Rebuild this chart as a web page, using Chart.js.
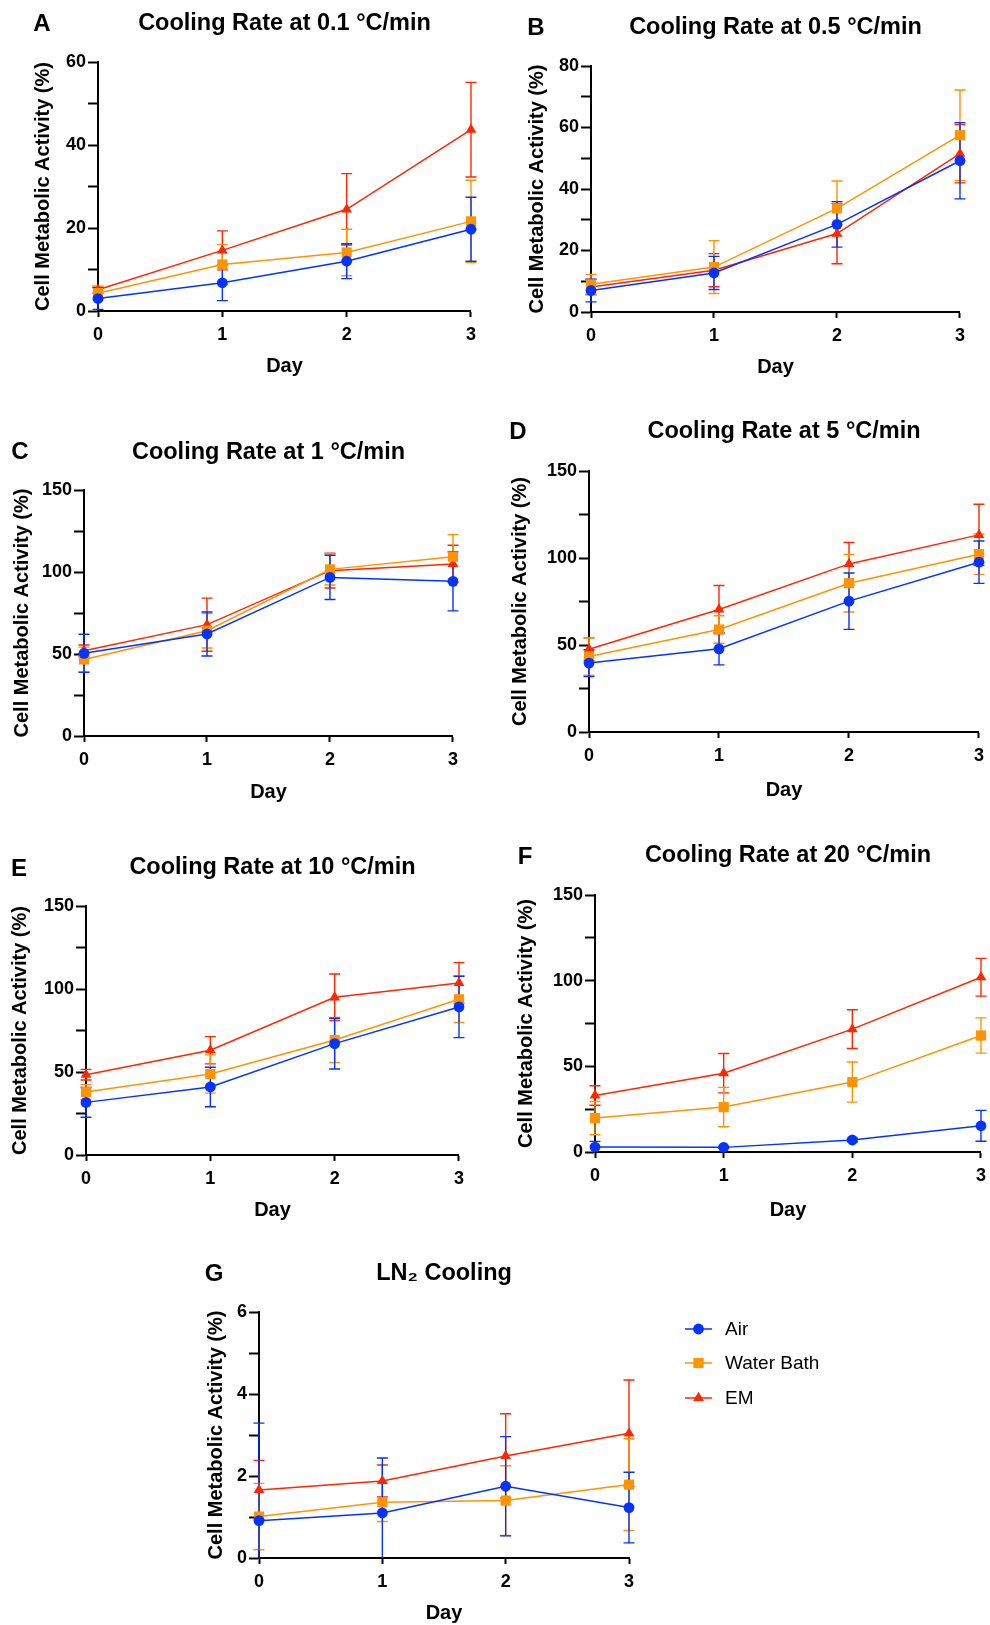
<!DOCTYPE html>
<html>
<head>
<meta charset="utf-8">
<script src="https://cdn.jsdelivr.net/npm/chart.js@4.4.1/dist/chart.umd.min.js"></script>
<style>
  html, body { margin: 0; padding: 0; background: #fff; }
  #page { position: relative; width: 990px; height: 1625px; overflow: hidden; }
  #page canvas { position: absolute; }
  .tag { position: absolute; font: bold 24px 'Liberation Sans', Arial, sans-serif; line-height: 1; transform: translate(-50%, -50%); color: #000; }
</style>
</head>
<body>
<div id="page"></div>
<script>
// days on the x axis
const days = [0, 1, 2, 3];
const seriesNames = ['Air', 'Water Bath', 'EM'];

// A - 0.1 C/min
const airA = [3.0, 6.8, 12.0, 19.7];
const airSdA = [2.6, 4.3, 4.2, 7.7];
const wbA = [4.3, 11.2, 14.1, 21.6];
const wbSdA = [1.6, 4.8, 5.6, 9.9];
const emA = [5.1, 14.6, 24.5, 43.7];
const emSdA = [0.8, 4.7, 8.6, 11.4];

// B - 0.5 C/min
const airB = [7.0, 12.7, 28.5, 49.2];
const airSdB = [3.7, 5.4, 7.4, 12.4];
const wbB = [9.0, 14.6, 33.7, 57.5];
const wbSdB = [3.2, 8.6, 8.9, 14.7];
const emB = [8.1, 13.6, 25.5, 51.5];
const emSdB = [2.5, 5.4, 9.8, 9.5];

// C - 1 C/min
const airC = [50.4, 62.2, 96.7, 94.3];
const airSdC = [11.6, 13.4, 13.5, 18.0];
const wbC = [46.7, 64.2, 101.6, 109.3];
const wbSdC = [7.5, 10.5, 9.5, 13.5];
const emC = [52.0, 67.9, 100.8, 104.9];
const emSdC = [3.5, 16.2, 10.6, 11.4];

// D - 5 C/min
const airD = [39.6, 47.8, 75.2, 97.6];
const airSdD = [7.7, 9.2, 16.2, 12.2];
const wbD = [43.4, 58.9, 85.5, 102.2];
const wbSdD = [10.7, 7.9, 16.5, 11.6];
const emD = [47.6, 70.4, 96.6, 113.3];
const emSdD = [6.5, 13.8, 12.3, 17.6];

// E - 10 C/min
const airE = [31.7, 41.0, 67.1, 89.2];
const airSdE = [9.0, 11.9, 15.3, 18.5];
const wbE = [38.0, 48.8, 69.3, 93.8];
const wbSdE = [4.5, 11.5, 13.6, 14.0];
const emE = [48.4, 63.1, 95.0, 103.6];
const emSdE = [3.2, 8.2, 14.0, 12.3];

// F - 20 C/min
const airF = [2.9, 2.7, 7.0, 15.3];
const airSdF = [3.3, 0.5, 1.0, 9.0];
const wbF = [19.8, 26.2, 40.8, 68.0];
const wbSdF = [9.7, 11.5, 11.7, 10.3];
const emF = [33.0, 46.0, 71.7, 102.0];
const emSdF = [5.7, 11.5, 11.3, 11.0];

// G - LN2
const airG = [0.91, 1.10, 1.75, 1.23];
const airSdG = [2.38, 1.34, 1.21, 0.86];
const wbG = [1.01, 1.36, 1.40, 1.79];
const wbSdG = [0.81, 0.47, 0.85, 1.12];
const emG = [1.66, 1.88, 2.49, 3.04];
const emSdG = [0.72, 0.39, 1.03, 1.30];

// y axis: max, minor step, labelled step
const yMaxes = [60, 80, 150, 150, 150, 150, 6];
const yMinor = [10, 10, 25, 25, 25, 25, 1];
const yMajor = [20, 20, 50, 50, 50, 50, 2];
const titles = ['Cooling Rate at 0.1 °C/min', 'Cooling Rate at 0.5 °C/min', 'Cooling Rate at 1 °C/min',
  'Cooling Rate at 5 °C/min', 'Cooling Rate at 10 °C/min', 'Cooling Rate at 20 °C/min', 'LN\u2082 Cooling'];
const letters = ['A', 'B', 'C', 'D', 'E', 'F', 'G'];

const colors = ['#0433FF', '#FF9300', '#FF2600'];
const shapes = ['circle', 'rect', 'triangle'];
const radii = [5.4, 7.2, 6.2];

const FONT = "'Liberation Sans', Arial, Helvetica, sans-serif";
Chart.defaults.font.family = FONT;
Chart.defaults.color = '#000';

// page layout of each panel (plot area edges, title/label centres)
const layout = [
  {L: 98, R: 471, T: 62, B: 311, titleY: 22.5, yTitleX: 43, xTitleY: 366, tagX: 42, tagY: 22.8},
  {L: 591, R: 960, T: 66, B: 312, titleY: 26.5, yTitleX: 537, xTitleY: 367, tagX: 536, tagY: 26.7},
  {L: 84, R: 453, T: 490, B: 736, titleY: 451.7, yTitleX: 22, xTitleY: 792, tagX: 20, tagY: 451.3},
  {L: 589, R: 979, T: 471, B: 732, titleY: 431, yTitleX: 520, xTitleY: 790, tagX: 518, tagY: 430.5},
  {L: 86, R: 459, T: 906, B: 1155, titleY: 866.7, yTitleX: 20, xTitleY: 1210, tagX: 19, tagY: 868},
  {L: 595, R: 981, T: 895, B: 1152, titleY: 855, yTitleX: 525.5, xTitleY: 1210, tagX: 525, tagY: 855.7},
  {L: 259, R: 629, T: 1312, B: 1558, titleY: 1273.3, yTitleX: 216, xTitleY: 1613, tagX: 214, tagY: 1273.3, right: 840}
];

const means = [[airA, wbA, emA], [airB, wbB, emB], [airC, wbC, emC], [airD, wbD, emD],
  [airE, wbE, emE], [airF, wbF, emF], [airG, wbG, emG]];
const sds = [[airSdA, wbSdA, emSdA], [airSdB, wbSdB, emSdB], [airSdC, wbSdC, emSdC], [airSdD, wbSdD, emSdD],
  [airSdE, wbSdE, emSdE], [airSdF, wbSdF, emSdF], [airSdG, wbSdG, emSdG]];

// error bars (mean +/- SD), drawn under the lines and markers
const errorBars = {
  id: 'errorBars',
  beforeDatasetsDraw(chart) {
    const ctx = chart.ctx, xs = chart.scales.x, ys = chart.scales.y;
    for (let i = chart.data.datasets.length - 1; i >= 0; i--) {
      const ds = chart.data.datasets[i];
      if (!ds.sd) continue;
      ctx.save();
      ctx.strokeStyle = ds.borderColor;
      ctx.lineWidth = 1.4;
      ds.data.forEach((pt, j) => {
        const x = xs.getPixelForValue(pt.x);
        const lo = Math.max(pt.y - ds.sd[j], ys.min);
        const hi = Math.min(pt.y + ds.sd[j], ys.max);
        const y1 = ys.getPixelForValue(lo), y2 = ys.getPixelForValue(hi);
        ctx.beginPath();
        ctx.moveTo(x, y1); ctx.lineTo(x, y2);
        if (lo > ys.min) { ctx.moveTo(x - 5.5, y1); ctx.lineTo(x + 5.5, y1); }
        ctx.moveTo(x - 5.5, y2); ctx.lineTo(x + 5.5, y2);
        ctx.stroke();
      });
      ctx.restore();
    }
  }
};

// legend next to panel G: line + marker + name
const sideLegend = {
  id: 'sideLegend',
  afterDraw(chart, args, opts) {
    if (!opts.show) return;
    const ctx = chart.ctx;
    chart.data.datasets.forEach((ds, i) => {
      const y = opts.rows[i] - opts.top;
      const x1 = opts.lineX1 - opts.left, x2 = opts.lineX2 - opts.left, xm = (x1 + x2) / 2;
      ctx.save();
      ctx.strokeStyle = ds.borderColor;
      ctx.lineWidth = 1.5;
      ctx.beginPath(); ctx.moveTo(x1, y); ctx.lineTo(x2, y); ctx.stroke();
      ctx.fillStyle = ds.pointBackgroundColor;
      const r = ds.pointRadius;
      ctx.beginPath();
      if (ds.pointStyle === 'circle') {
        ctx.arc(xm, y, r, 0, Math.PI * 2);
      } else if (ds.pointStyle === 'rect') {
        const s = r * Math.SQRT1_2;
        ctx.rect(xm - s, y - s, 2 * s, 2 * s);
      } else {
        ctx.moveTo(xm, y - r);
        ctx.lineTo(xm + r * 0.866, y + r / 2);
        ctx.lineTo(xm - r * 0.866, y + r / 2);
        ctx.closePath();
      }
      ctx.fill();
      ctx.fillStyle = '#000';
      ctx.font = '19px ' + FONT;
      ctx.textBaseline = 'middle';
      ctx.fillText(ds.label, opts.textX - opts.left, y + 1);
      ctx.restore();
    });
  }
};

const page = document.getElementById('page');

function buildPanel(k) {
  const g = layout[k];
  const cx = Math.round(g.yTitleX - 12);
  const cy = Math.round(g.titleY - 14);
  const right = g.right || (g.R + 12);
  const bottom = Math.round(g.xTitleY + 12);
  const w = right - cx, h = bottom - cy;
  const wy = g.L - cx, hx = bottom - g.B;

  const cv = document.createElement('canvas');
  cv.width = w; cv.height = h;
  cv.style.left = cx + 'px'; cv.style.top = cy + 'px';
  cv.style.width = w + 'px'; cv.style.height = h + 'px';
  page.appendChild(cv);

  const tag = document.createElement('div');
  tag.className = 'tag';
  tag.textContent = letters[k];
  tag.style.left = g.tagX + 'px'; tag.style.top = g.tagY + 'px';
  page.appendChild(tag);

  const datasets = seriesNames.map((name, i) => ({
    label: name,
    data: days.map((d, j) => ({x: d, y: means[k][i][j]})),
    sd: sds[k][i],
    borderColor: colors[i],
    backgroundColor: colors[i],
    pointBackgroundColor: colors[i],
    pointBorderColor: colors[i],
    pointBorderWidth: 0,
    pointStyle: shapes[i],
    pointRadius: radii[i],
    borderWidth: 1.5,
    tension: 0,
    clip: false
  }));

  new Chart(cv, {
    type: 'line',
    data: { datasets },
    options: {
      responsive: false,
      animation: false,
      devicePixelRatio: 1,
      layout: { padding: { left: 0, top: 0, right: right - g.R, bottom: 0 } },
      plugins: {
        legend: { display: false },
        tooltip: { enabled: false },
        title: {
          display: true, text: titles[k], fullSize: false, color: '#000',
          font: { size: 23.5, weight: 'bold', lineHeight: 1.2 },
          padding: { top: 0, bottom: g.T - cy - 28.2 }
        },
        sideLegend: {
          show: k === 6, left: cx, top: cy,
          lineX1: 685, lineX2: 712, textX: 725, rows: [1329, 1363, 1398]
        }
      },
      scales: {
        x: {
          type: 'linear', min: 0, max: 3, offset: false,
          afterFit: (s) => { s.height = hx; },
          ticks: { stepSize: 1, color: '#000', font: { size: 18, weight: 'bold' }, padding: 7, maxRotation: 0, autoSkip: false },
          grid: { drawOnChartArea: false, drawTicks: true, tickLength: 6, tickWidth: 2, color: '#000', tickColor: '#000' },
          border: { display: true, color: '#000', width: 2 },
          title: { display: true, text: 'Day', color: '#000', font: { size: 20, weight: 'bold', lineHeight: 1.2 }, padding: 0 }
        },
        y: {
          min: 0, max: yMaxes[k],
          afterFit: (s) => { s.width = wy; },
          ticks: {
            stepSize: yMinor[k], color: '#000', autoSkip: false, padding: 2,
            font: { size: 18, weight: 'bold' },
            callback: (v) => (Math.abs(v % yMajor[k]) < 1e-9 ? v : '')
          },
          grid: { drawOnChartArea: false, drawTicks: true, tickLength: 10, tickWidth: 2, color: '#000', tickColor: '#000' },
          border: { display: true, color: '#000', width: 2 },
          title: { display: true, text: 'Cell Metabolic Activity (%)', color: '#000', font: { size: 20, weight: 'bold', lineHeight: 1.2 }, padding: 0 }
        }
      }
    },
    plugins: [errorBars, sideLegend]
  });
}

for (let k = 0; k < layout.length; k++) buildPanel(k);
</script>
</body>
</html>
